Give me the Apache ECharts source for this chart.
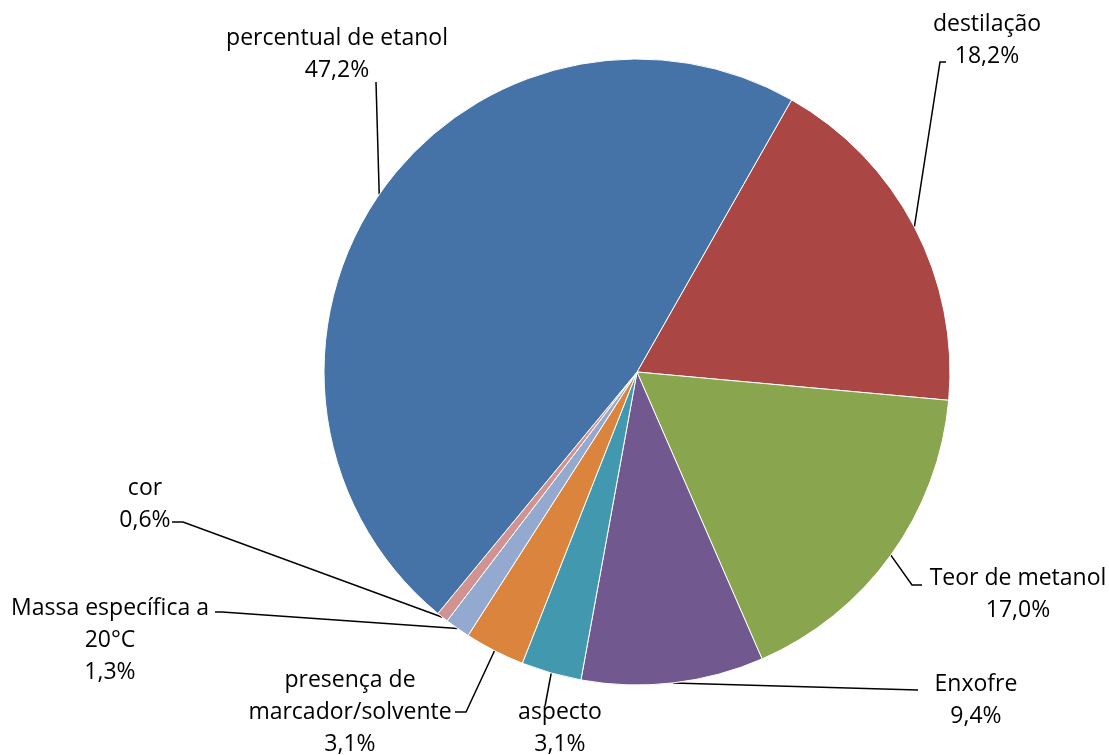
<!DOCTYPE html>
<html>
<head>
<meta charset="utf-8">
<script src="https://cdn.jsdelivr.net/npm/echarts@6/dist/echarts.min.js"></script>
<style>html,body{margin:0;padding:0;background:#fff}#c{width:1109px;height:755px}</style>
</head>
<body>
<div id="c"></div>
<script>
const categories = ['destilação', 'Teor de metanol', 'Enxofre', 'aspecto', 'presença de\nmarcador/solvente', 'Massa específica a\n20°C', 'cor', 'percentual de etanol'];
const values = [18.2, 17.0, 9.4, 3.1, 3.1, 1.3, 0.6, 47.2];
const colors = ['#AA4643', '#89A54E', '#71588F', '#4198AF', '#DB843D', '#93A9CF', '#D19392', '#4572A7'];
// label centre positions
const labelPos = [[987, 40], [1018, 594], [976, 700], [560, 728], [350, 712], [110, 640], [145, 504], [337, 54]];
// leader-line attach point relative to label centre, plus horizontal tick length (0 = none)
const leaderAnchor = [[-41, 22, -6], [-96, -9, -10], [-58, -10, 0], [-15, -22, 0], [105, 0, 11], [105, -28, 7], [27, 18, 11], [39, 28, 0]];

const chart = echarts.init(document.getElementById('c'));
chart.setOption({
  animation: false,
  series: [{
    type: 'pie',
    center: [637, 372],
    radius: 313,
    startAngle: 60.4,
    clockwise: true,
    data: categories.map((n, i) => ({ name: n, value: values[i], itemStyle: { color: colors[i] } })),
    itemStyle: { borderColor: '#fff', borderWidth: 1 },
    label: {
      show: true,
      formatter: p => p.name + '\n' + p.value.toFixed(1).replace('.', ',') + '%',
      fontFamily: 'Open Sans',
      fontSize: 23,
      color: '#000',
      lineHeight: 32,
      align: 'center',
      overflow: 'none',
      edgeDistance: 0
    },
    labelLine: { show: true, lineStyle: { color: '#000', width: 1.5 }, smooth: false },
    labelLayout: p => {
      const i = p.dataIndex;
      const cx = labelPos[i][0], cy = labelPos[i][1];
      const a = leaderAnchor[i];
      const end = [cx + a[0], cy + a[1]];
      const start = p.labelLinePoints ? p.labelLinePoints[0] : end;
      const pts = a[2] ? [start, [end[0] + a[2], end[1]], end] : [start, end];
      return {
        x: cx,
        y: cy,
        align: 'center',
        verticalAlign: 'middle',
        labelLinePoints: pts
      };
    }
  }]
});
</script>
</body>
</html>
